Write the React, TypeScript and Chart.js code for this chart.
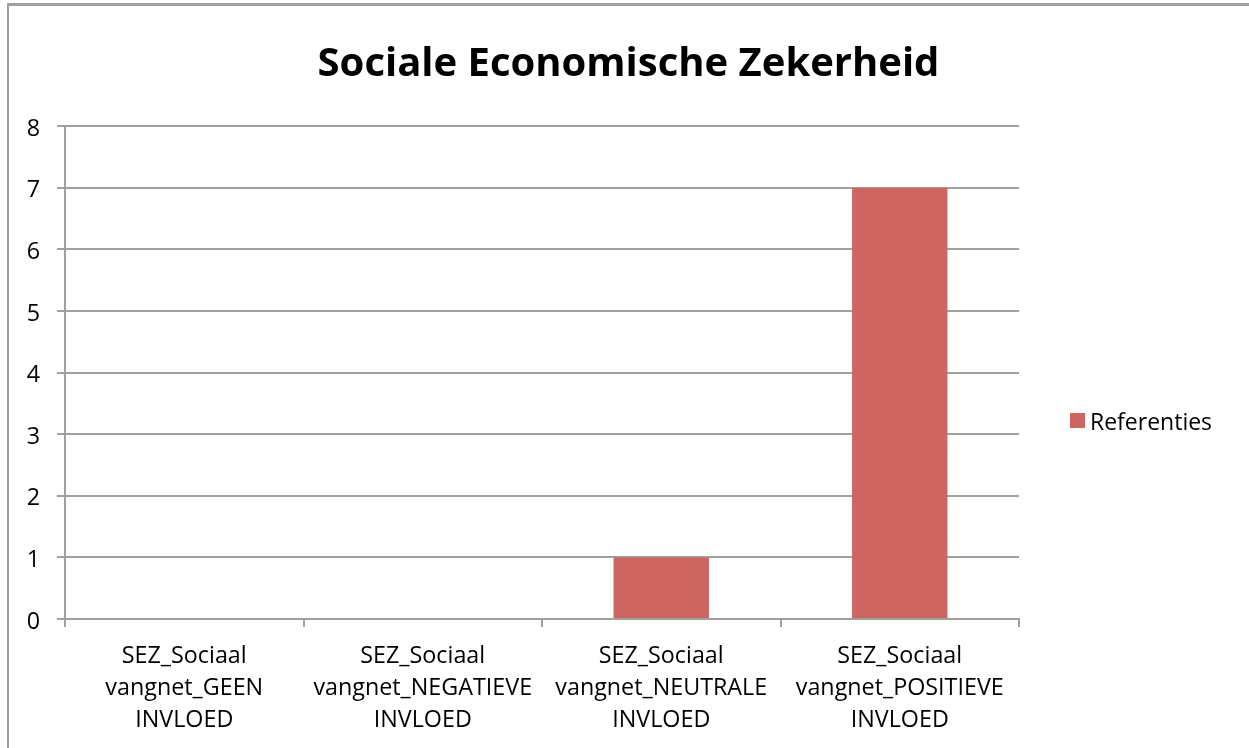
import React, { useEffect, useRef } from "react";
import { Chart, registerables } from "chart.js";

Chart.register(...registerables);

const TITLE = "Sociale Economische Zekerheid";
const SERIES_LABEL = "Referenties";
const CATEGORIES: string[][] = [
  ["SEZ_Sociaal", "vangnet_GEEN", "INVLOED"],
  ["SEZ_Sociaal", "vangnet_NEGATIEVE", "INVLOED"],
  ["SEZ_Sociaal", "vangnet_NEUTRALE", "INVLOED"],
  ["SEZ_Sociaal", "vangnet_POSITIEVE", "INVLOED"],
];
const VALUES: number[] = [0, 0, 1, 7];
const Y_MIN = 0;
const Y_MAX = 8;
const Y_STEP = 1;

const FONT = '"Open Sans", "DejaVu Sans", sans-serif';
const GRID = "#a0a0a0";
const BAR = "#cd6660";

const legendPlugin = {
  id: "sideLegend",
  afterDraw(chart: any) {
    const ctx = chart.ctx;
    const ds = chart.data.datasets[0];
    ctx.save();
    ctx.fillStyle = ds.backgroundColor;
    ctx.fillRect(1070, 413, 15, 15);
    ctx.fillStyle = "#000";
    ctx.font = `23px ${FONT}`;
    ctx.textBaseline = "middle";
    ctx.textAlign = "left";
    ctx.fillText(ds.label, 1090, 423.5);
    ctx.restore();
  },
};

export default function App() {
  const ref = useRef<HTMLCanvasElement>(null);

  useEffect(() => {
    if (!ref.current) return;
    const chart = new Chart(ref.current, {
      type: "bar",
      data: {
        labels: CATEGORIES,
        datasets: [
          {
            label: SERIES_LABEL,
            data: VALUES,
            backgroundColor: BAR,
            borderWidth: 0,
            categoryPercentage: 1,
            barPercentage: 0.4,
          },
        ],
      },
      plugins: [legendPlugin],
      options: {
        responsive: false,
        animation: false,
        devicePixelRatio: 1,
        layout: { padding: { left: 8, right: 0, top: 0, bottom: 0 } },
        plugins: {
          legend: { display: false },
          tooltip: { enabled: false },
          title: {
            display: true,
            text: TITLE,
            color: "#000",
            font: { family: FONT, size: 40, weight: "bold", lineHeight: 1.2 },
            padding: { top: 40.4, bottom: 37.6 },
          },
        },
        scales: {
          x: {
            grid: {
              display: true,
              drawOnChartArea: false,
              drawTicks: true,
              tickLength: 8,
              color: GRID,
              lineWidth: 2,
              offset: true,
            },
            border: { display: true, color: GRID, width: 2 },
            ticks: {
              color: "#000",
              font: { family: FONT, size: 23.3, lineHeight: 1.36 },
              padding: 14,
              maxRotation: 0,
              minRotation: 0,
              autoSkip: false,
            },
            afterFit: (s: any) => {
              s.height = 129;
            },
          },
          y: {
            min: Y_MIN,
            max: Y_MAX,
            ticks: {
              stepSize: Y_STEP,
              color: "#000",
              font: { family: FONT, size: 23.3 },
              padding: 17,
              labelOffset: 3,
            },
            grid: {
              color: GRID,
              lineWidth: 2,
              drawTicks: true,
              tickLength: 8,
            },
            border: { display: true, color: GRID, width: 2 },
            afterFit: (s: any) => {
              s.width = 57;
            },
          },
          legendSpace: {
            type: "linear",
            position: "right",
            display: true,
            grid: { display: false },
            ticks: { display: false },
            border: { display: false },
            afterFit: (s: any) => {
              s.width = 230;
            },
          },
        },
      },
    } as any);
    return () => chart.destroy();
  }, []);

  return (
    <div
      style={{
        position: "fixed",
        left: 0,
        top: 0,
        width: 1249,
        height: 748,
        overflow: "hidden",
        background: "#fff",
      }}
    >
      <div
        style={{
          position: "absolute",
          left: 7,
          top: 3,
          width: 1300,
          height: 800,
          borderLeft: `2px solid ${GRID}`,
          borderTop: `3px solid ${GRID}`,
        }}
      />
      <canvas
        ref={ref}
        width={1249}
        height={748}
        style={{ position: "absolute", left: 0, top: 0, width: 1249, height: 748 }}
      />
    </div>
  );
}
